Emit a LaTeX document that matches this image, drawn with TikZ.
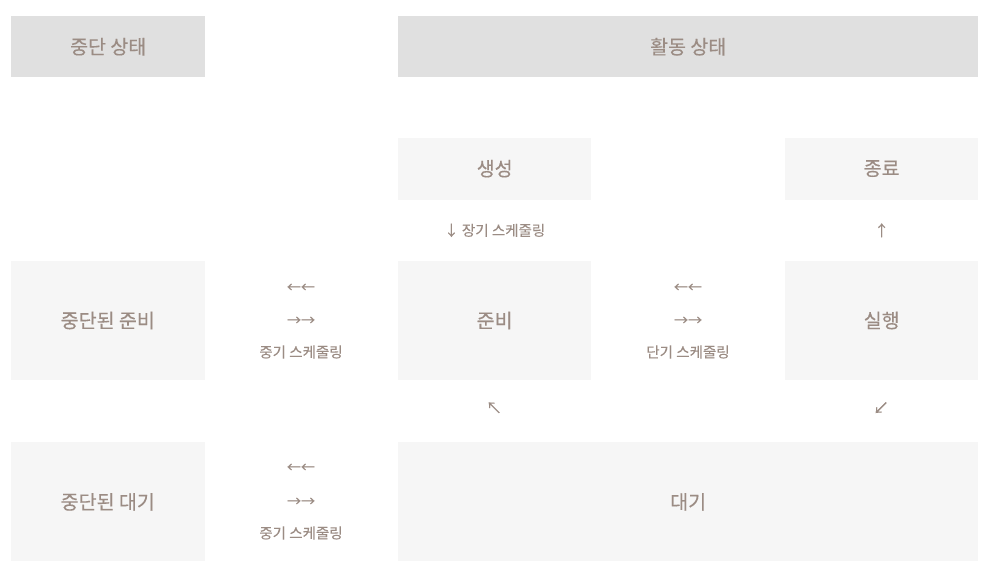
\documentclass[tikz,border=0pt]{standalone}
\usepackage{fontspec}
\setmainfont{Noto Sans CJK KR}[FakeBold=0.25]
\usetikzlibrary{positioning, calc}

\definecolor{txtgray}{RGB}{155,140,132}
\definecolor{headfill}{RGB}{224,224,224}
\definecolor{boxfill}{RGB}{246,246,246}

\begin{document}
\begin{tikzpicture}[x=1pt, y=1pt,
    head/.style={fill=headfill, text=txtgray, font=\fontsize{19.5}{21}\selectfont, inner sep=0pt, minimum height=61pt, anchor=north west},
    state/.style={fill=boxfill, text=txtgray, font=\fontsize{19.5}{21}\selectfont, inner sep=0pt, minimum width=193pt, anchor=north west},
    sched/.style={text=txtgray, font=\fontsize{14.5}{16}\selectfont, inner sep=0pt},
    glyph/.style={text=txtgray, font=\fontsize{14}{15}\selectfont, inner sep=0pt}]

    \useasboundingbox (0,0) rectangle (989,-573);

    % header row
    \node[head, minimum width=194pt] (stopped) at (11,-16) {중단 상태};
    \node[head, minimum width=580pt] (active) at (398,-16) {활동 상태};

    % boxes
    \node[state, minimum height=62pt, below=60pt of active.south west, anchor=north west] (new) {생성};
    \node[state, minimum height=62pt, below=60pt of active.south east, anchor=north east] (done) {종료};
    \node[state, minimum height=119pt, below=61pt of new.south west, anchor=north west] (ready) {준비};
    \node[state, minimum height=119pt, below=61pt of done.south west, anchor=north west] (run) {실행};
    \node[state, minimum height=119pt, minimum width=194pt, left=193pt of ready.north west, anchor=north east] (sready) {중단된 준비};
    \node[state, minimum height=119pt, minimum width=194pt, below=62pt of sready.south west, anchor=north west] (swait) {중단된 대기};
    \node[state, minimum height=119pt, minimum width=580pt, below=62pt of ready.south west, anchor=north west] (wait) {대기};

    % long term / exit
    \node[sched] (longterm) at ($(new.south)!0.5!(ready.north)$) {↓ 장기 스케줄링};
    \node[glyph, font=\fontsize{15}{16}\selectfont] (exit) at ($(done.south)!0.5!(run.north)$) {↑};

    % mid term (ready)
    \node[glyph] (mid1l) at (301,-288) {←←};
    \node[glyph] (mid1r) at (301,-321) {→→};
    \node[sched] (mid1) at (301,-352) {중기 스케줄링};

    % short term
    \node[glyph] (shortl) at (688,-288) {←←};
    \node[glyph] (shortr) at (688,-321) {→→};
    \node[sched] (short) at (688,-352) {단기 스케줄링};

    % mid term (wait)
    \node[glyph] (mid2l) at (301,-468) {←←};
    \node[glyph] (mid2r) at (301,-502) {→→};
    \node[sched] (mid2) at (301,-533) {중기 스케줄링};

    % wait transitions
    \node[glyph, font=\fontsize{16}{17}\selectfont] (wakeup) at (494,-408) {↖};
    \node[glyph, font=\fontsize{16}{17}\selectfont] (block) at (881,-408) {↙};

\end{tikzpicture}
\end{document}
